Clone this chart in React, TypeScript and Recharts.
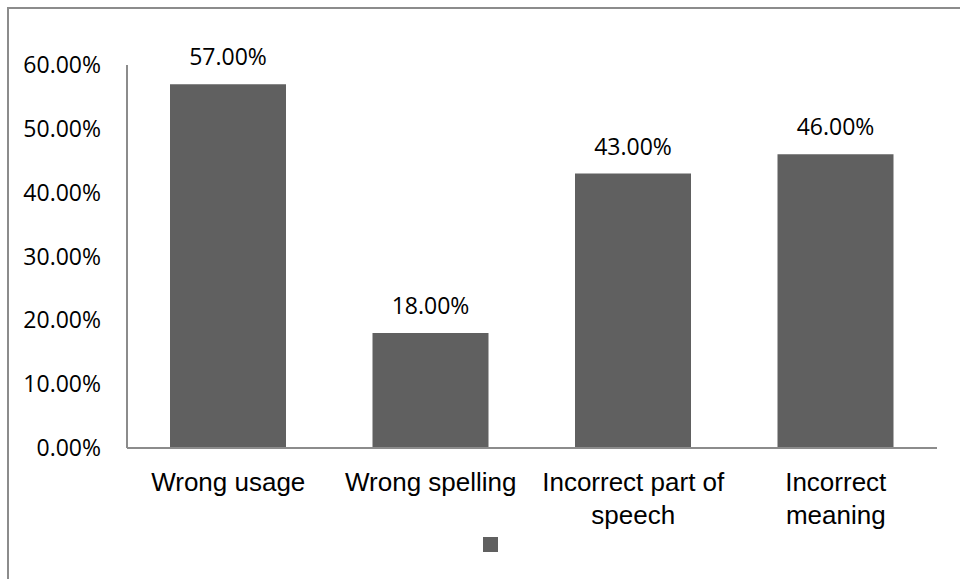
import { Bar, BarChart, LabelList, Legend, XAxis, YAxis } from 'recharts';

const categories = ['Wrong usage', 'Wrong spelling', 'Incorrect part of speech', 'Incorrect meaning'];
// how each category name breaks onto lines under the axis
const categoryLines = [['Wrong usage'], ['Wrong spelling'], ['Incorrect part of', 'speech'], ['Incorrect', 'meaning']];
const errorShare = [57, 18, 43, 46];
const yTicks = [0, 10, 20, 30, 40, 50, 60];

const chartData = categories.map((name, i) => ({ name, value: errorShare[i] }));

const BAR_COLOR = '#606060';
const AXIS_COLOR = '#8c8c8c';
const pctFont = '"Open Sans", sans-serif';

const pct = (v: number) => `${Number(v).toFixed(2)}%`;

const CategoryTick = (props: any) => {
  const { x, y, payload } = props;
  const idx = categories.indexOf(payload.value);
  const lines = categoryLines[idx] ?? [payload.value];
  return (
    <text
      x={x}
      y={y}
      textAnchor="middle"
      fontFamily='"Liberation Sans", Arial, sans-serif'
      fontSize={26}
      fill="#000"
    >
      {lines.map((line, i) => (
        <tspan key={line} x={x} dy={i === 0 ? 35 : 33}>
          {line}
        </tspan>
      ))}
    </text>
  );
};

const SwatchLegend = () => (
  <div style={{ width: 15, height: 15, background: BAR_COLOR }} />
);

const App = () => {
  return (
    <div style={{ position: 'absolute', left: 0, top: 0, width: 960, height: 579, background: '#fff' }}>
      <div
        style={{
          position: 'absolute',
          left: 7,
          top: 7,
          right: 0,
          bottom: 0,
          borderLeft: `2px solid ${AXIS_COLOR}`,
          borderTop: `2px solid ${AXIS_COLOR}`,
        }}
      />
      <div style={{ position: 'absolute', left: 0, top: 0 }}>
        <BarChart
          width={960}
          height={579}
          data={chartData}
          margin={{ top: 65, right: 23, bottom: 56, left: 0 }}
          barCategoryGap={0}
        >
          <XAxis
            dataKey="name"
            axisLine={{ stroke: AXIS_COLOR, strokeWidth: 2 }}
            tickLine={false}
            interval={0}
            tick={<CategoryTick />}
            height={60}
          />
          <YAxis
            width={127}
            domain={[0, 60]}
            ticks={yTicks}
            interval={0}
            tickFormatter={pct}
            axisLine={{ stroke: AXIS_COLOR, strokeWidth: 2 }}
            tickLine={false}
            tickMargin={20}
            tick={{ fill: '#000', fontSize: 23, fontFamily: pctFont }}
          />
          <Legend
            content={<SwatchLegend />}
            wrapperStyle={{ left: 483, top: 537, bottom: 'auto', width: 15, height: 15 }}
          />
          <Bar dataKey="value" fill={BAR_COLOR} barSize={116} isAnimationActive={false}>
            <LabelList
              dataKey="value"
              position="top"
              offset={19}
              formatter={(v: any) => pct(v)}
              style={{ fill: '#000', fontSize: 23, fontFamily: pctFont }}
            />
          </Bar>
        </BarChart>
      </div>
    </div>
  );
};

export default App;
